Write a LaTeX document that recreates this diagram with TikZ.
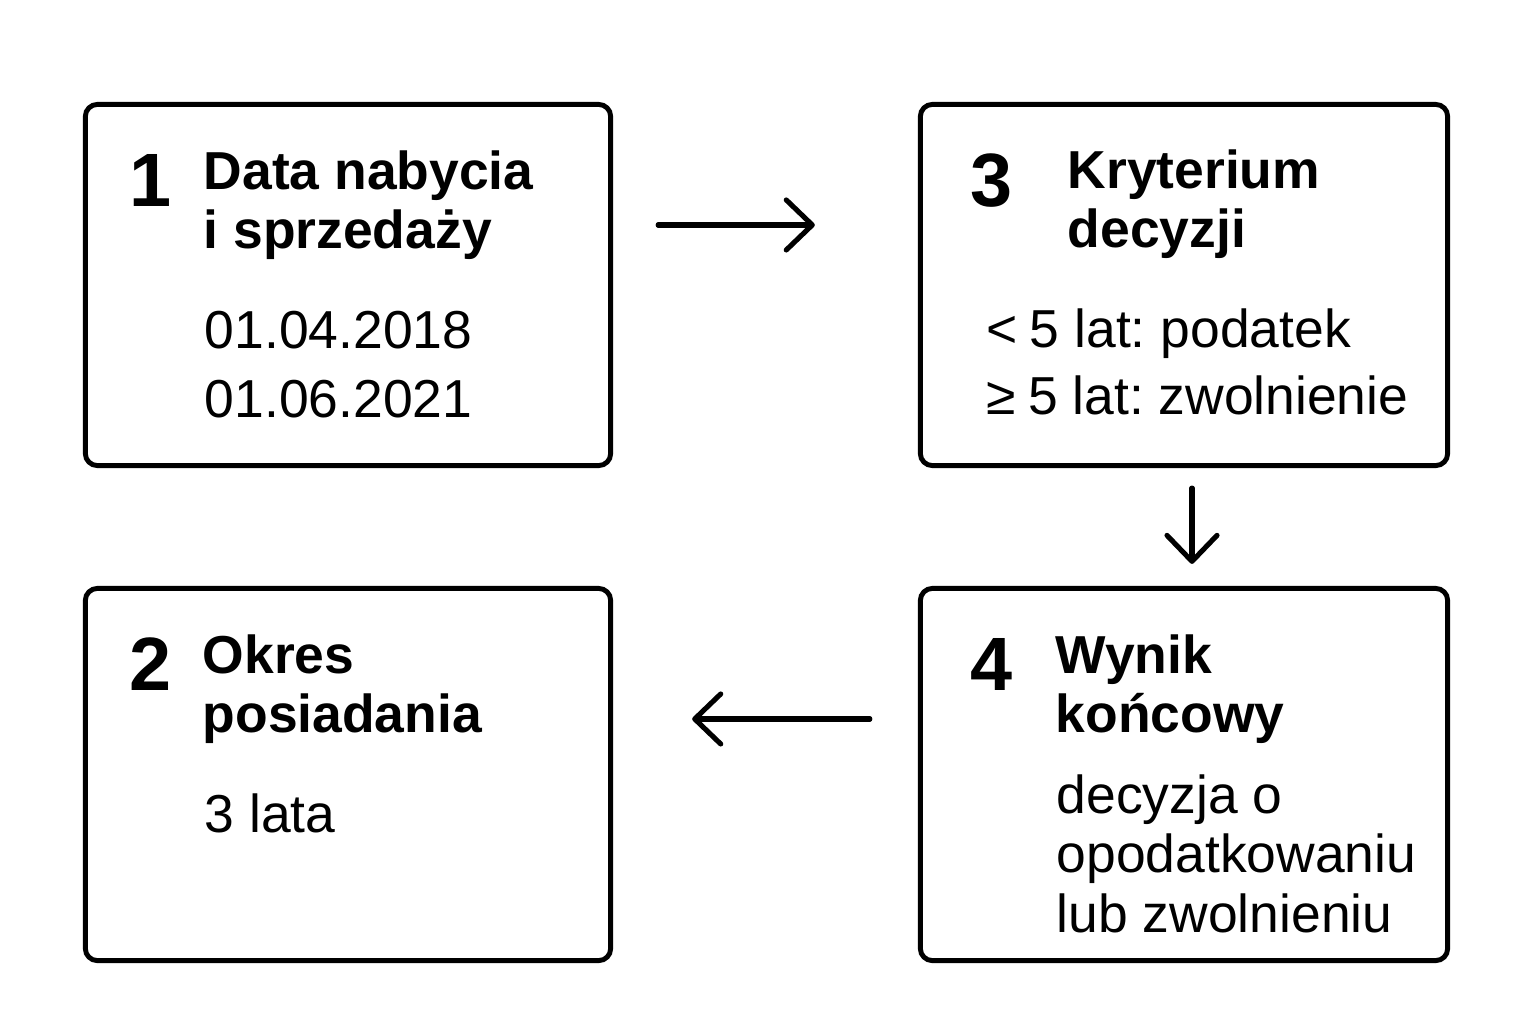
\documentclass[tikz,border=0pt]{standalone}
\usepackage{fontspec}
\setmainfont{Liberation Sans}
\frenchspacing
\usetikzlibrary{arrows.meta,positioning,calc}
\tikzset{
  panel/.style={draw=black,line width=1.4pt,rounded corners=0.12cm,inner sep=0pt,
    minimum width=5.25cm},
  stepnum/.style={anchor=base west,inner sep=0pt,font=\fontsize{21.5}{24}\selectfont\bfseries},
  headline/.style={anchor=base west,inner sep=0pt,align=left,
    font=\fontsize{15.2}{16.5}\selectfont\bfseries},
  detail/.style={anchor=base west,inner sep=0pt,align=left,
    font=\fontsize{15.2}{19.6}\selectfont},
  flowarrow/.style={-{Straight Barb[length=2.6mm,width=5mm,round]},line width=1.45pt,line cap=round}
}
\begin{document}
\begin{tikzpicture}[x=0.01cm,y=-0.01cm]
  \useasboundingbox (0,0) rectangle (1536,1024);
  % boxes
  \node[panel,minimum height=3.61cm] (dates) at (348,285) {};
  \node[panel,minimum height=3.72cm] (period) at (348,774.5) {};
  \node[panel,minimum height=3.61cm,minimum width=5.27cm] (criterion) at (1184,285) {};
  \node[panel,minimum height=3.72cm,minimum width=5.27cm] (result) at (1184,774.5) {};
  % box 1 (text nodes sit on the baseline of their last line)
  \node[stepnum] (n1) at (129,206) {1};
  \node[headline] (h1) at (203,248) {Data nabycia\\i sprzedaży};
  \node[detail] (d1) at (204,417) {01.04.2018\\01.06.2021};
  % box 2
  \node[stepnum] (n2) at (129,690) {2};
  \node[headline] (h2) at (202,732) {Okres\\posiadania};
  \node[detail] (d2) at (204,832) {3 lata};
  % box 3
  \node[stepnum] (n3) at (970,206) {3};
  \node[headline] (h3) at (1067,247) {Kryterium\\decyzji};
  \node[detail,font=\fontsize{15.2}{19}\selectfont] (d3) at (986,414)
    {<\kern0.12cm5 lat: podatek\\≥\kern0.12cm5 lat: zwolnienie};
  % box 4
  \node[stepnum] (n4) at (970,690) {4};
  \node[headline] (h4) at (1055,732) {Wynik\\końcowy};
  \node[detail,font=\fontsize{15.2}{16.8}\selectfont] (d4) at (1056,932)
    {decyzja o\\opodatkowaniu\\lub zwolnieniu};
  % arrows
  \draw[flowarrow,shorten <=0.45cm,shorten >=1.03cm] ([yshift=0.6cm]dates.east) -- ([yshift=0.6cm]criterion.west);
  \draw[flowarrow,shorten <=0.2cm,shorten >=0.22cm] ([xshift=0.08cm]criterion.south) -- ([xshift=0.08cm]result.north);
  \draw[flowarrow,shorten <=0.48cm,shorten >=0.79cm] ([yshift=0.555cm]result.west) -- ([yshift=0.555cm]period.east);
\end{tikzpicture}
\end{document}
